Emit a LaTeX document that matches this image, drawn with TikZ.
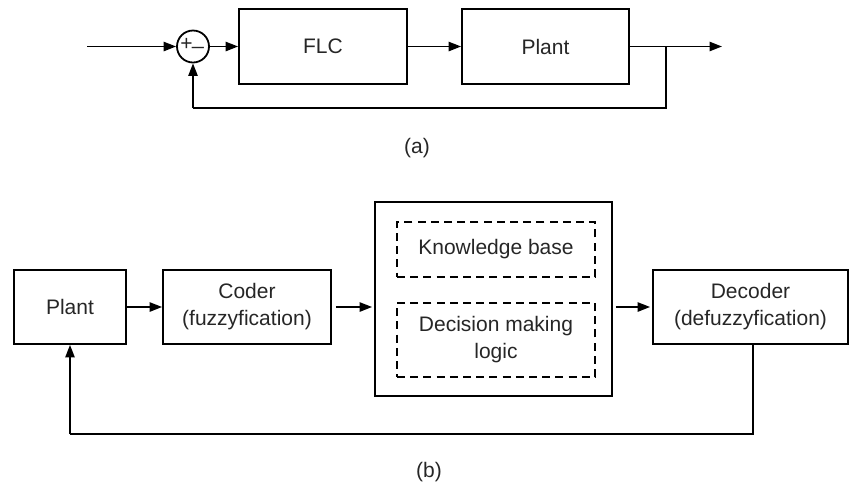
\documentclass[tikz,border=0pt]{standalone}
\usepackage{fontspec}
\setmainfont{Liberation Sans}
\usetikzlibrary{arrows.meta}
\begin{document}
\begin{tikzpicture}[x=0.5pt,y=-0.5pt,
  every node/.style={font=\fontsize{10.5}{13.5}\selectfont, text=black!85},
  blk/.style={draw, line width=0.9pt, inner sep=0pt, align=center},
  dbox/.style={draw, dash pattern=on 4pt off 2.6pt, line width=0.75pt, inner sep=0pt, align=center},
  conn/.style={line width=0.9pt},
  arr/.style={conn, -{Triangle[length=6.2pt,width=4.6pt]}},
  sgn/.style={font=\fontsize{10.5}{10.5}\selectfont, inner sep=0pt},
]
\useasboundingbox (0,0) rectangle (851,484);
% ---------- (a) ----------
\node[draw, circle, line width=0.9pt, minimum size=16pt, inner sep=0pt] (sum) at (193,46.5) {};
\node[sgn] (plus) at (186.5,44.5) {+};
\node[sgn] (minus) at (198,46.5) {\_};
\node[blk, minimum width=84pt, minimum height=37.5pt] (flc) at (323,46.5) {FLC};
\node[blk, minimum width=83.5pt, minimum height=37.5pt] (planta) at (545.5,46.5) {Plant};
\coordinate (ina) at (87,46.5);
\coordinate (outa) at (722,46.5);
\coordinate (br) at (666,46.5);
\coordinate (brd) at (666,108);
\coordinate (fbl) at (193,108);
\draw[arr] (ina) -- (sum.west);
\draw[arr] (sum.east) -- (flc.west);
\draw[arr] (flc.east) -- (planta.west);
\draw[arr] (planta.east) -- (outa);
\draw[conn] (br) -- (brd) -- (fbl);
\draw[arr] (fbl) -- (sum.south);
\node (la) at (417,148) {(a)};
% ---------- (b) ----------
\node[blk, minimum width=56pt, minimum height=37pt] (plantb) at (70,307) {Plant};
\node[blk, minimum width=84pt, minimum height=37pt] (coder) at (247,307) {Coder\\(fuzzyfication)};
\node[blk, minimum width=118.5pt, minimum height=97pt] (main) at (493.5,299) {};
\node[dbox, minimum width=99pt, minimum height=27.5pt] (kb) at (496,249.5) {Knowledge base};
\node[dbox, minimum width=99pt, minimum height=37pt] (dm) at (496,340) {Decision making\\logic};
\node[blk, minimum width=97.5pt, minimum height=37pt] (dec) at (750.5,307) {Decoder\\(defuzzyfication)};
\coordinate (dd) at (753,434);
\coordinate (dl) at (70,434);
\draw[arr] (plantb.east) -- (coder.west);
\draw[arr, shorten <=2pt, shorten >=1pt] (coder.east) -- (coder.east -| main.west);
\draw[arr, shorten <=1.5pt, shorten >=1pt] (main.east |- dec.west) -- (dec.west);
\draw[conn] (dec.south -| dd) -- (dd) -- (dl);
\draw[arr] (dl) -- (plantb.south);
\node (lb) at (429,472) {(b)};
\end{tikzpicture}
\end{document}
